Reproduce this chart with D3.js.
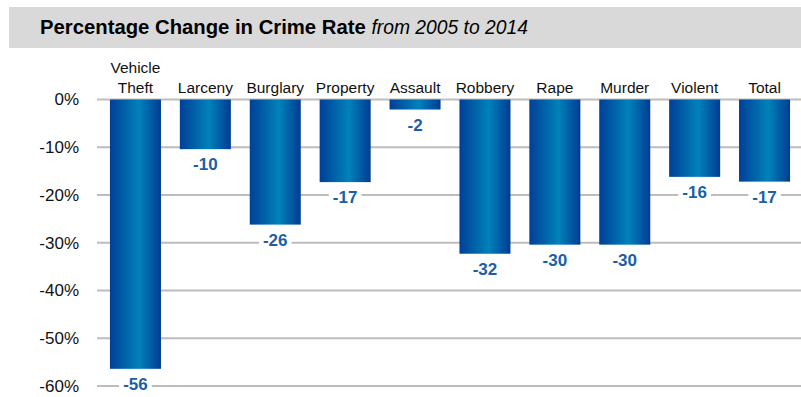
<!DOCTYPE html>
<html>
<head>
<meta charset="utf-8">
<script src="https://cdn.jsdelivr.net/npm/d3@7"></script>
<style>
  html, body { margin: 0; padding: 0; background: #fff; }
  svg { display: block; font-family: "Liberation Sans", Arial, sans-serif; }
</style>
</head>
<body>
<svg id="chart" width="801" height="397"></svg>
<script>
const categories = ["Vehicle Theft", "Larceny", "Burglary", "Property", "Assault", "Robbery", "Rape", "Murder", "Violent", "Total"];
const values = [-56.4, -10.4, -26.2, -17.3, -2.1, -32.3, -30.4, -30.4, -16.2, -17.2];
const valueLabels = ["-56", "-10", "-26", "-17", "-2", "-32", "-30", "-30", "-16", "-17"];
const yTicks = [0, -10, -20, -30, -40, -50, -60];
const titleMain = "Percentage Change in Crime Rate";
const titleSub = "from 2005 to 2014";

const svg = d3.select("#chart");
const W = 801;

// Title band
svg.append("rect").attr("x", 9).attr("y", 7).attr("width", W - 9).attr("height", 41).attr("fill", "#d9d9d9");
const title = svg.append("text").attr("x", 40).attr("y", 34).attr("font-size", 20.3).attr("fill", "#000");
title.append("tspan").attr("font-weight", "bold").text(titleMain + " ");
title.append("tspan").attr("font-style", "italic").attr("font-size", 19.3).text(titleSub);

const x = d3.scaleBand().domain(categories).range([100.5, 799.5]).paddingInner(0.27).paddingOuter(0.135);
const y = d3.scaleLinear().domain([0, -60]).range([99.5, 386]);

// Gradient
const defs = svg.append("defs");
const grad = defs.append("linearGradient").attr("id", "barGrad").attr("x1", "0%").attr("x2", "100%").attr("y1", "0%").attr("y2", "0%");
grad.append("stop").attr("offset", "0%").attr("stop-color", "#003f97");
grad.append("stop").attr("offset", "57%").attr("stop-color", "#0082ba");
grad.append("stop").attr("offset", "100%").attr("stop-color", "#003c93");

// Gridlines + y axis labels
const yAxis = d3.axisLeft(y).tickValues(yTicks).tickSize(0).tickPadding(0).tickFormat(d => d + "%");
const gy = svg.append("g").attr("transform", "translate(79,0)").call(yAxis);
gy.select(".domain").remove();
gy.selectAll("text").attr("font-size", 17).attr("fill", "#111").attr("font-family", "'Liberation Sans', Arial, sans-serif");

svg.append("g").selectAll("line").data(yTicks).join("line")
  .attr("x1", 97).attr("x2", W)
  .attr("y1", d => y(d)).attr("y2", d => y(d))
  .attr("stroke", "#bdbdbd").attr("stroke-width", 2);

// Bars
svg.append("g").selectAll("rect").data(categories).join("rect")
  .attr("x", d => x(d))
  .attr("y", y(0))
  .attr("width", x.bandwidth())
  .attr("height", (d, i) => y(values[i]) - y(0))
  .attr("fill", "url(#barGrad)");

// Category labels
const cl = svg.append("g").selectAll("text").data(categories).join("text")
  .attr("text-anchor", "middle")
  .attr("font-size", 15.5)
  .attr("fill", "#111")
  .attr("x", d => x(d) + x.bandwidth() / 2);
cl.each(function(d) {
  const words = d === "Vehicle Theft" ? ["Vehicle", "Theft"] : [d];
  const t = d3.select(this);
  words.forEach((w, k) => {
    t.append("tspan").attr("x", x(d) + x.bandwidth() / 2)
      .attr("y", 93 - (words.length - 1 - k) * 20).text(w);
  });
});

// Value labels with white knockout
const vg = svg.append("g");
categories.forEach((c, i) => {
  const cx = x(c) + x.bandwidth() / 2;
  const cy = y(values[i]) + 15;
  const g = vg.append("g");
  const bg = g.append("rect").attr("fill", "#fff");
  const t = g.append("text").attr("x", cx).attr("y", cy).attr("dy", "0.36em")
    .attr("text-anchor", "middle").attr("font-weight", "bold").attr("font-size", 17)
    .attr("fill", "#1b5fa8").text(valueLabels[i]);
  const bb = t.node().getBBox();
  bg.attr("x", bb.x - 4).attr("y", bb.y + 2).attr("width", bb.width + 8).attr("height", bb.height - 4);
});
</script>
</body>
</html>
